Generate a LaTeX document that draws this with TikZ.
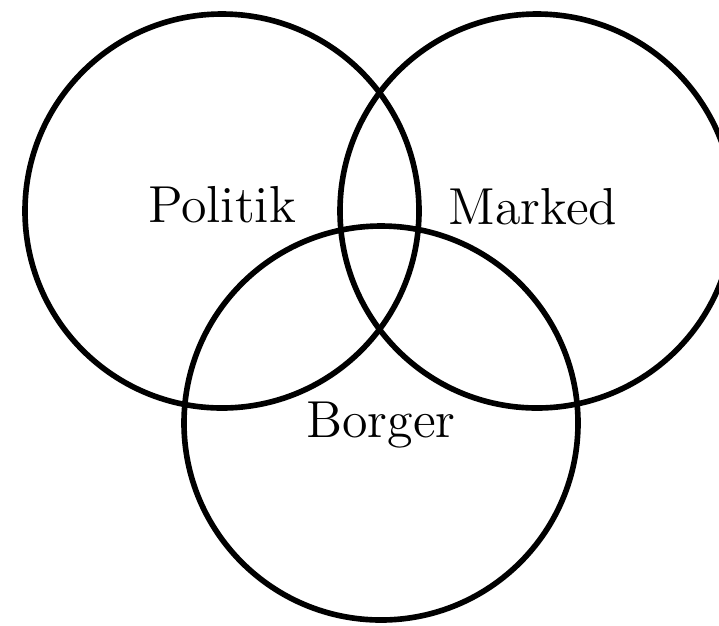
\documentclass[tikz,border=0pt]{standalone}
\usetikzlibrary{calc, positioning}

\begin{document}
\begin{tikzpicture}
\def\rval{1.97}
\useasboundingbox (0,0) rectangle (7.19,6.25);
\coordinate (CPol) at (2.22,4.14);
\coordinate (CMar) at (5.37,4.14);
\coordinate (CBor) at (3.81,2.02);

\draw[line width=1.6pt, black] (CPol) circle (\rval);
\draw[line width=1.6pt, black] (CMar) circle (\rval);
\draw[line width=1.6pt, black] (CBor) circle (\rval);

\node[anchor=base, font=\fontsize{14.8}{17}\selectfont] (Pol) at (2.22,4.03) {Politik};
\node[anchor=base, font=\fontsize{14.8}{17}\selectfont] (Mar) at (5.33,4.01) {Marked};
\node[anchor=base, font=\fontsize{14.8}{17}\selectfont] (Bor) at (3.81,1.88) {Borger};
\end{tikzpicture}
\end{document}
